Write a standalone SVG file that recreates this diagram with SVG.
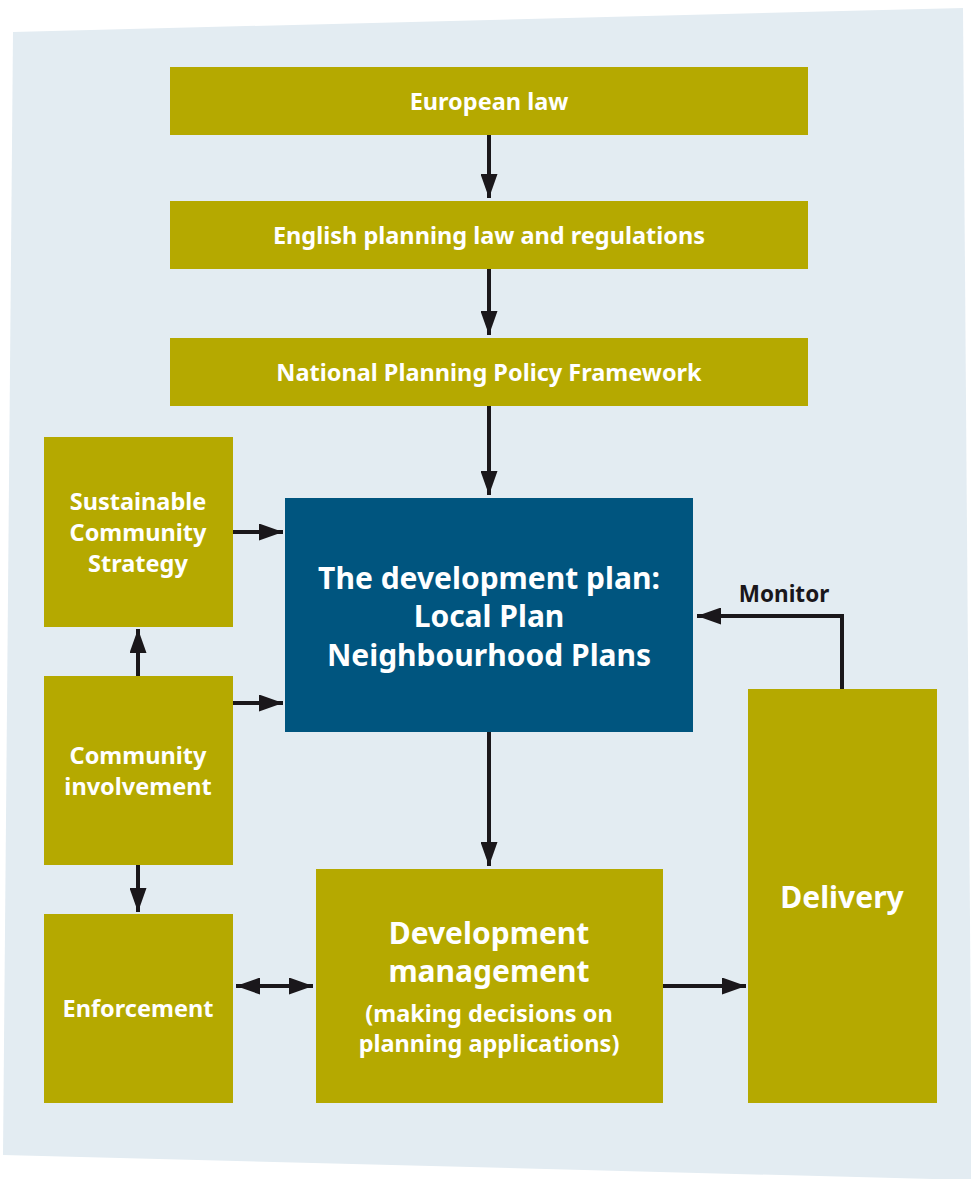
<svg xmlns="http://www.w3.org/2000/svg" width="971" height="1179" viewBox="0 0 971 1179">
<defs>
<style>
.box{fill:#B5A900}
.blue{fill:#00557F}
.t{font-family:"Noto Sans","Open Sans","DejaVu Sans",sans-serif;font-weight:bold;fill:#FFFFFF;text-anchor:middle}
.s21{font-size:23.5px}
.s22{font-size:23.5px}
.s29{font-size:30px}
.ln{stroke:#1A171B;stroke-width:4;fill:none}
</style>
<marker id="ah" viewBox="0 0 24 17" refX="24" refY="8.5" markerWidth="24" markerHeight="17" markerUnits="userSpaceOnUse" orient="auto-start-reverse">
<path d="M0,0 L24,8.5 L0,17 Z" fill="#1A171B"/>
</marker>
</defs>
<polygon points="13,32 963,8 972,1180 3,1155" fill="#E3ECF2"/>
<g id="connectors">
<line class="ln" x1="489" y1="135" x2="489" y2="198" marker-end="url(#ah)"/>
<line class="ln" x1="489" y1="269" x2="489" y2="335" marker-end="url(#ah)"/>
<line class="ln" x1="489" y1="406" x2="489" y2="495" marker-end="url(#ah)"/>
<line class="ln" x1="233" y1="532" x2="283" y2="532" marker-end="url(#ah)"/>
<line class="ln" x1="233" y1="703" x2="283" y2="703" marker-end="url(#ah)"/>
<line class="ln" x1="138" y1="676" x2="138" y2="629" marker-end="url(#ah)"/>
<line class="ln" x1="138" y1="865" x2="138" y2="912" marker-end="url(#ah)"/>
<line class="ln" x1="489" y1="732" x2="489" y2="866" marker-end="url(#ah)"/>
<line class="ln" x1="236" y1="986" x2="313" y2="986" marker-start="url(#ah)" marker-end="url(#ah)"/>
<line class="ln" x1="663" y1="986" x2="746" y2="986" marker-end="url(#ah)"/>
<polyline class="ln" points="842,689 842,616 697,616" marker-end="url(#ah)"/>
<text x="784" y="602" font-family="'Noto Sans','Open Sans',sans-serif" font-weight="bold" font-size="22.5" fill="#1A171B" text-anchor="middle">Monitor</text>
</g>
<g id="european-law">
<rect class="box" x="170" y="67" width="638" height="68"/>
<text class="t s21" x="489" y="110">European law</text>
</g>
<g id="english-law">
<rect class="box" x="170" y="201" width="638" height="68"/>
<text class="t s21" x="489" y="244">English planning law and regulations</text>
</g>
<g id="nppf">
<rect class="box" x="170" y="338" width="638" height="68"/>
<text class="t s21" x="489" y="381">National Planning Policy Framework</text>
</g>
<g id="scs">
<rect class="box" x="44" y="437" width="189" height="190"/>
<text class="t s22" x="138" y="510">Sustainable</text>
<text class="t s22" x="138" y="541">Community</text>
<text class="t s22" x="138" y="572">Strategy</text>
</g>
<g id="community-involvement">
<rect class="box" x="44" y="676" width="189" height="189"/>
<text class="t s22" x="138" y="764">Community</text>
<text class="t s22" x="138" y="795">involvement</text>
</g>
<g id="enforcement">
<rect class="box" x="44" y="914" width="189" height="189"/>
<text class="t s22" x="138" y="1017">Enforcement</text>
</g>
<g id="development-plan">
<rect class="blue" x="285" y="498" width="408" height="234"/>
<text class="t s29" x="489" y="589">The development plan:</text>
<text class="t s29" x="489" y="627">Local Plan</text>
<text class="t s29" x="489" y="666">Neighbourhood Plans</text>
</g>
<g id="development-management">
<rect class="box" x="316" y="869" width="347" height="234"/>
<text class="t s29" x="489" y="944">Development</text>
<text class="t s29" x="489" y="982">management</text>
<text class="t s22" x="489" y="1022">(making decisions on</text>
<text class="t s22" x="489" y="1052">planning applications)</text>
</g>
<g id="delivery">
<rect class="box" x="748" y="689" width="189" height="414"/>
<text class="t" x="842" y="908" font-size="30">Delivery</text>
</g>
</svg>
